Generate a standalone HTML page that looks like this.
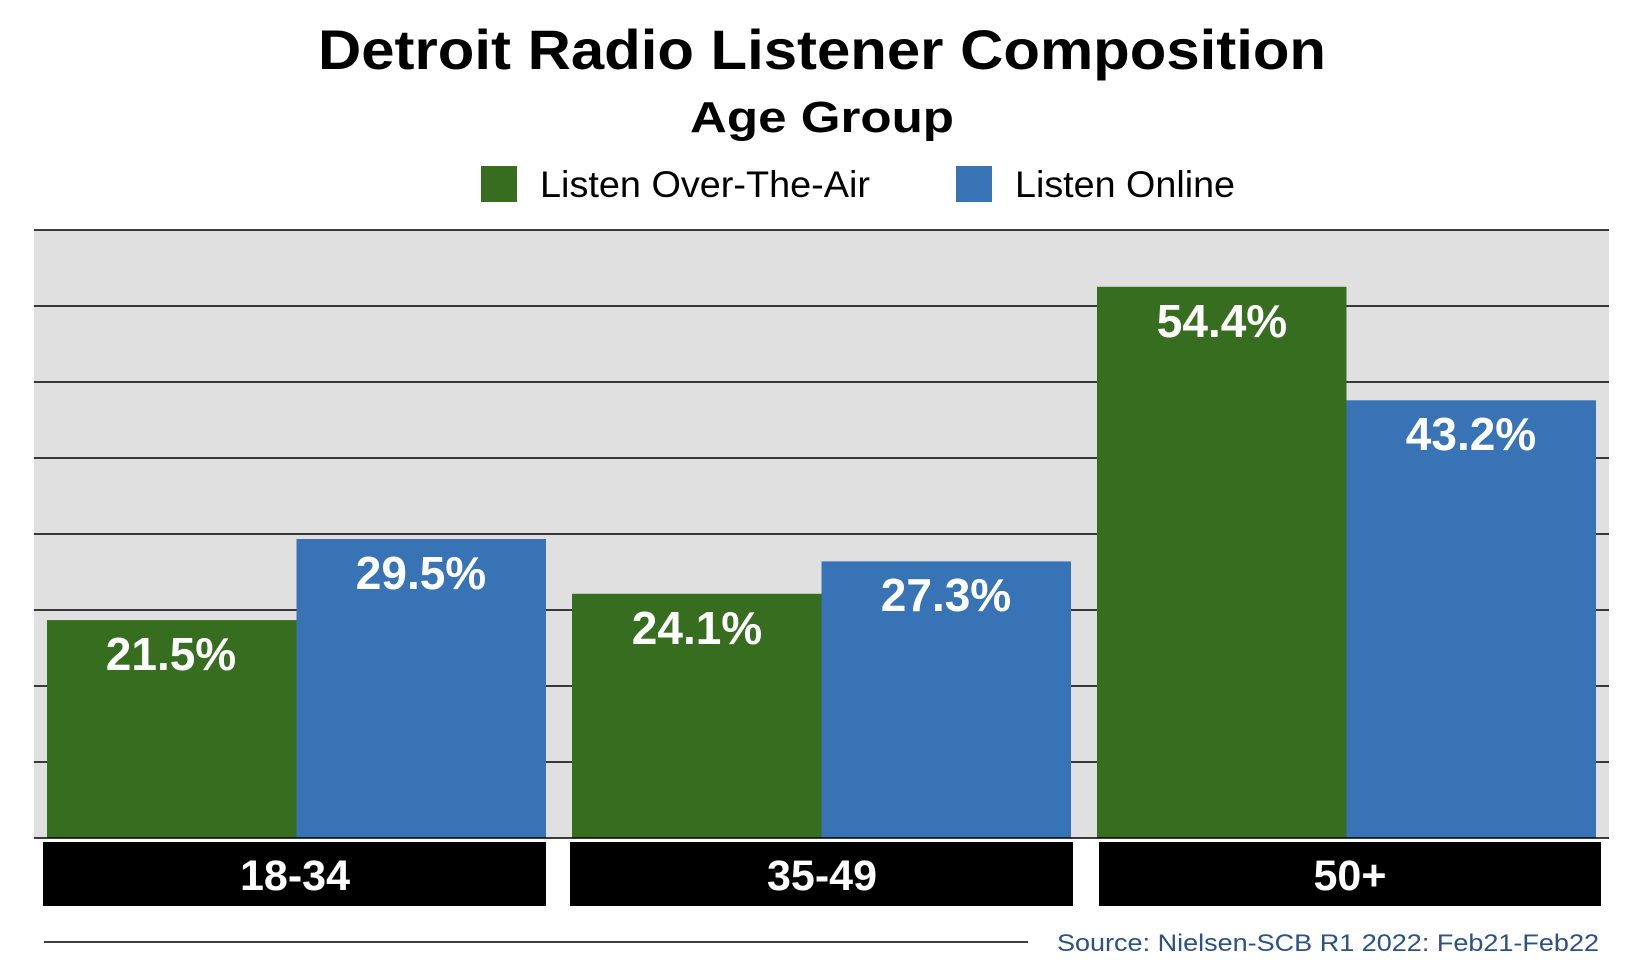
<!DOCTYPE html>
<html><head><meta charset="utf-8"><style>html,body{margin:0;padding:0;background:#fff}svg{display:block}</style></head>
<body>
<svg width="1648" height="980" xmlns="http://www.w3.org/2000/svg" font-family="Liberation Sans, Arial, sans-serif">
<text x="822" y="69" text-anchor="middle" font-size="56" font-weight="bold" textLength="1008" lengthAdjust="spacingAndGlyphs">Detroit Radio Listener Composition</text>
<text x="822" y="132" text-anchor="middle" font-size="44" font-weight="bold" textLength="264" lengthAdjust="spacingAndGlyphs">Age Group</text>
<rect x="481" y="166" width="36" height="36" fill="#366d1f"/>
<text x="540" y="197" font-size="37" textLength="330" lengthAdjust="spacingAndGlyphs">Listen Over-The-Air</text>
<rect x="956" y="166" width="36" height="36" fill="#3874b5"/>
<text x="1015" y="197" font-size="37" textLength="220" lengthAdjust="spacingAndGlyphs">Listen Online</text>
<rect x="34" y="230" width="1575" height="608" fill="#e0e0e0"/>
<g stroke="#000" stroke-width="1.5">
<line x1="34" x2="1609" y1="230" y2="230"/><line x1="34" x2="1609" y1="306" y2="306"/>
<line x1="34" x2="1609" y1="382" y2="382"/><line x1="34" x2="1609" y1="458" y2="458"/>
<line x1="34" x2="1609" y1="534" y2="534"/><line x1="34" x2="1609" y1="610" y2="610"/>
<line x1="34" x2="1609" y1="686" y2="686"/><line x1="34" x2="1609" y1="762" y2="762"/>
</g>
<g>
<rect x="47" y="620.1" width="249.5" height="217.9" fill="#366d1f"/>
<rect x="296.5" y="539" width="249.5" height="299" fill="#3874b5"/>
<rect x="572" y="593.8" width="249.5" height="244.2" fill="#366d1f"/>
<rect x="821.5" y="561.4" width="249.5" height="276.6" fill="#3874b5"/>
<rect x="1097" y="286.8" width="249.5" height="551.2" fill="#366d1f"/>
<rect x="1346.5" y="400.3" width="249.5" height="437.7" fill="#3874b5"/>
</g>
<line x1="34" x2="1609" y1="838" y2="838" stroke="#000" stroke-width="1.5"/>
<g fill="#fff" font-size="46" font-weight="bold" text-anchor="middle">
<text x="171" y="670">21.5%</text>
<text x="421" y="589">29.5%</text>
<text x="697" y="644">24.1%</text>
<text x="946" y="611">27.3%</text>
<text x="1222" y="337">54.4%</text>
<text x="1471" y="450">43.2%</text>
</g>
<rect x="43" y="842" width="503" height="64" fill="#000"/>
<rect x="570" y="842" width="503" height="64" fill="#000"/>
<rect x="1099" y="842" width="502" height="64" fill="#000"/>
<g fill="#fff" font-size="43" font-weight="bold" text-anchor="middle">
<text x="295" y="890">18-34</text>
<text x="822" y="890">35-49</text>
<text x="1350" y="890">50+</text>
</g>
<line x1="44" x2="1028" y1="942" y2="942" stroke="#000" stroke-width="1.5"/>
<text x="1599" y="951" text-anchor="end" font-size="24" fill="#2a5288" textLength="542" lengthAdjust="spacingAndGlyphs">Source: Nielsen-SCB R1 2022: Feb21-Feb22</text>
</svg>
</body></html>
